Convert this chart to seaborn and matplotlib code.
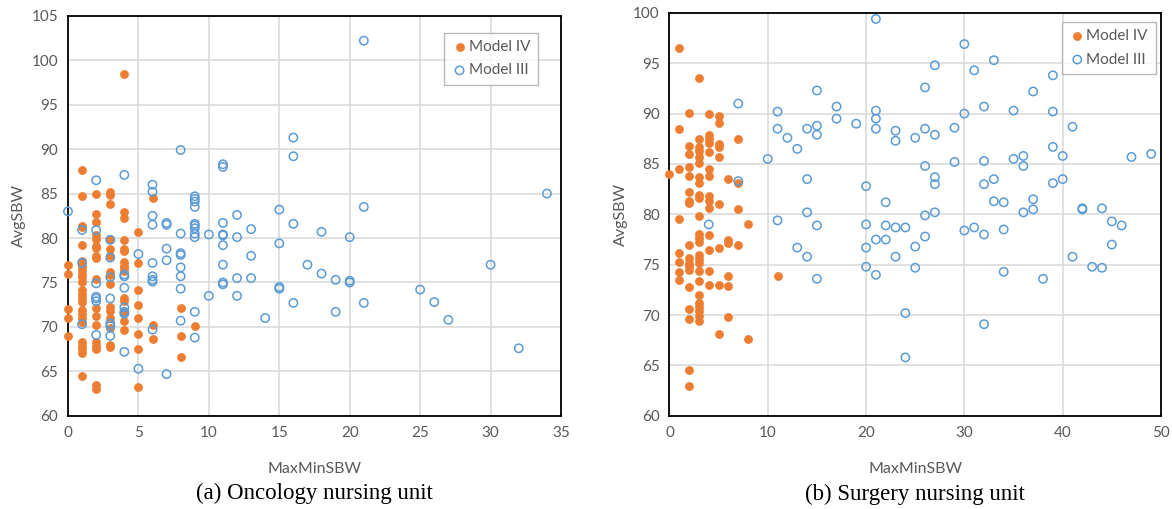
import matplotlib
matplotlib.use("Agg")
import matplotlib.pyplot as plt
import seaborn as sns

sns.set_style("white")
plt.rcParams["font.family"] = ["Lato", "DejaVu Sans"]

ORANGE = "#ED7D31"
BLUE = "#5B9BD5"
GRID = "#d9d9d9"
TEXT = "#595959"

# (a) Oncology nursing unit
onc_iv_x = [0] * 5 + [1] * 24 + [2] * 18 + [3] * 15 + [4] * 15 + [5] * 8 + [6] * 3 + [8] * 3 + [9]
onc_iv_y = [77.0, 76.0, 72.0, 71.0, 69.0,
            87.7, 84.7, 81.4, 81.2, 79.2, 77.4, 76.9, 76.4, 76.0, 75.6, 75.1, 74.2, 73.7, 73.2,
            72.8, 71.9, 71.5, 71.0, 70.6, 68.3, 67.9, 67.5, 67.1, 64.5,
            85.0, 82.7, 81.8, 80.3, 79.9, 79.1, 78.9, 78.0, 77.8, 75.4, 72.1, 71.2, 70.2, 68.3,
            67.9, 67.5, 63.5, 63.0,
            85.2, 84.8, 83.8, 79.9, 78.8, 78.0, 76.2, 75.8, 74.8, 72.2, 71.8, 71.0, 69.9, 68.0, 67.7,
            98.4, 82.9, 82.2, 79.8, 78.8, 78.5, 77.3, 76.9, 76.6, 76.3, 73.2, 72.9, 71.7, 70.7, 69.7,
            80.7, 77.2, 74.2, 72.5, 71.0, 69.2, 67.5, 63.2,
            84.5, 70.2, 68.6,
            72.1, 69.0, 66.6,
            70.1]
onc_iii_x = ([0] + [1] * 3 + [2] * 7 + [3] * 7 + [4] * 8 + [5] * 2 + [6] * 9 + [7] * 5 + [8] * 8
             + [9] * 11 + [10] * 2 + [11] * 9 + [12] * 4 + [13] * 3 + [14] + [15] * 4 + [16] * 4
             + [17] + [18] * 2 + [19] * 2 + [20] * 3 + [21] * 3 + [25, 26, 27, 30, 32, 34])
onc_iii_y = [83.0,
             80.9, 77.2, 70.3,
             86.5, 80.9, 74.9, 73.4, 73.2, 72.9, 69.1,
             79.8, 77.8, 75.6, 73.2, 70.4, 70.1, 69.0,
             87.1, 75.9, 75.7, 74.4, 72.2, 71.7, 71.5, 67.2,
             78.2, 65.3,
             86.0, 85.2, 82.5, 81.5, 77.2, 75.7, 75.3, 75.1, 69.7,
             81.7, 81.5, 78.8, 77.5, 64.7,
             89.9, 80.5, 78.3, 78.1, 76.7, 75.7, 74.3, 70.7,
             84.7, 84.4, 84.1, 83.5, 81.6, 81.4, 81.1, 80.5, 80.1, 71.7, 68.8,
             80.4, 73.5,
             88.3, 88.0, 81.7, 80.4, 80.3, 79.2, 77.0, 75.0, 74.8,
             82.6, 80.1, 75.5, 73.5,
             81.0, 78.0, 75.5,
             71.0,
             83.2, 79.4, 74.5, 74.3,
             91.3, 89.2, 81.6, 72.7,
             77.0,
             80.7, 76.0,
             75.3, 71.7,
             80.1, 75.2, 75.0,
             102.2, 83.5, 72.7,
             74.2, 72.8, 70.8, 77.0, 67.6, 85.0]

# (b) Surgery nursing unit
sur_iv_x = ([0] + [1] * 8 + [2] * 18 + [3] * 25 + [4] * 14 + [5] * 9 + [6] * 6 + [7] * 4
            + [8] * 2 + [11])
sur_iv_y = [84.0,
            96.5, 88.5, 84.5, 79.5, 76.2, 75.3, 74.3, 73.5,
            90.1, 86.8, 86.0, 84.7, 83.8, 82.2, 81.3, 81.1, 77.0, 75.7, 75.2, 74.9, 74.5, 72.8,
            70.6, 69.6, 64.6, 63.0,
            93.5, 87.5, 86.7, 86.3, 85.7, 85.1, 83.7, 83.1, 81.9, 81.6, 79.8, 78.1, 77.7, 77.3,
            76.0, 75.6, 75.2, 74.4, 73.4, 72.0, 71.2, 70.8, 70.4, 69.9, 69.4,
            90.0, 87.9, 87.5, 87.1, 86.2, 84.5, 83.8, 81.8, 81.3, 80.6, 78.0, 76.5, 74.4, 73.0,
            89.8, 89.1, 87.0, 86.7, 85.7, 81.0, 76.7, 73.0, 68.1,
            83.5, 77.5, 77.2, 73.9, 72.9, 69.8,
            87.5, 83.1, 80.5, 77.0,
            79.0, 67.6,
            73.9]
sur_iii_x = ([4] + [7] * 2 + [10] + [11] * 3 + [12] + [13] * 2 + [14] * 4 + [15] * 5 + [17] * 2
             + [19] + [20] * 4 + [21] * 6 + [22] * 3 + [23] * 4 + [24] * 3 + [25] * 3 + [26] * 5
             + [27] * 5 + [29] * 2 + [30] * 3 + [31] * 2 + [32] * 5 + [33] * 3 + [34] * 3
             + [35] * 2 + [36] * 3 + [37] * 3 + [38] + [39] * 4 + [40] * 2 + [41] * 2 + [42] * 2
             + [43] + [44] * 2 + [45] * 2 + [46, 47, 49])
sur_iii_y = [79.0,
             91.0, 83.3,
             85.5,
             90.2, 88.5, 79.4,
             87.6,
             86.5, 76.7,
             88.5, 83.5, 80.2, 75.8,
             92.3, 88.8, 87.9, 78.9, 73.6,
             90.7, 89.5,
             89.0,
             82.8, 79.0, 76.7, 74.8,
             99.4, 90.3, 89.5, 88.5, 77.5, 74.0,
             81.2, 78.9, 77.5,
             88.3, 87.3, 78.7, 75.8,
             78.7, 70.2, 65.8,
             87.6, 76.8, 74.7,
             92.6, 88.5, 84.8, 79.9, 77.8,
             94.8, 87.9, 83.7, 83.0, 80.2,
             88.6, 85.2,
             96.9, 90.0, 78.4,
             94.3, 78.7,
             90.7, 85.3, 83.0, 78.0, 69.1,
             95.3, 83.5, 81.3,
             81.2, 78.5, 74.3,
             90.3, 85.5,
             85.8, 84.8, 80.2,
             92.2, 81.5, 80.5,
             73.6,
             93.8, 90.2, 86.7, 83.1,
             85.8, 83.5,
             88.7, 75.8,
             80.6, 80.5,
             74.8,
             80.6, 74.7,
             79.3, 77.0,
             78.9, 85.7, 86.0]


def draw_panel(ax, iv_x, iv_y, iii_x, iii_y, xmax, xstep, ymax, caption, legend_anchor):
    sns.scatterplot(x=iv_x, y=iv_y, ax=ax, color=ORANGE, edgecolor=ORANGE, linewidth=0,
                    s=40, label="Model IV", zorder=3, clip_on=False)
    sns.scatterplot(x=iii_x, y=iii_y, ax=ax, facecolor="none", edgecolor=BLUE, linewidth=1.1,
                    s=36, label="Model III", zorder=4, clip_on=False)
    ax.set_xlim(0, xmax)
    ax.set_ylim(60, ymax)
    ax.set_xticks(range(0, xmax + 1, xstep))
    ax.set_yticks(range(60, ymax + 1, 5))
    ax.grid(True, color=GRID, linewidth=1.1)
    ax.set_axisbelow(True)
    for sp in ax.spines.values():
        sp.set_visible(True)
        sp.set_color("black")
        sp.set_linewidth(1.3)
    ax.tick_params(axis="both", length=0, labelsize=11, labelcolor=TEXT, pad=7)
    ax.set_xlabel("MaxMinSBW", fontsize=11.5, color=TEXT, labelpad=16)
    ax.set_ylabel("AvgSBW", fontsize=11.5, color=TEXT, labelpad=4)
    leg = ax.legend(loc="upper right", bbox_to_anchor=legend_anchor, frameon=True,
                    fancybox=False, edgecolor="#a6a6a6", fontsize=11, handletextpad=0.1,
                    borderpad=0.5, labelspacing=0.6, handlelength=1.0, borderaxespad=0)
    leg.get_frame().set_linewidth(1.0)
    for t in leg.get_texts():
        t.set_color(TEXT)
    ax.text(0.5, -0.195, caption, transform=ax.transAxes, ha="center", va="center",
            fontsize=16.5, family="Liberation Serif", color="black")


fig = plt.figure(figsize=(11.72, 5.09), dpi=100)
ax1 = fig.add_axes([0.058, 0.183, 0.4207, 0.786])
ax2 = fig.add_axes([0.5712, 0.183, 0.4194, 0.7917])

draw_panel(ax1, onc_iv_x, onc_iv_y, onc_iii_x, onc_iii_y, 35, 5, 105,
           "(a) Oncology nursing unit", (0.953, 0.958))
draw_panel(ax2, sur_iv_x, sur_iv_y, sur_iii_x, sur_iii_y, 50, 10, 100,
           "(b) Surgery nursing unit", (0.989, 0.978))

fig.savefig("out.png", dpi=100)
